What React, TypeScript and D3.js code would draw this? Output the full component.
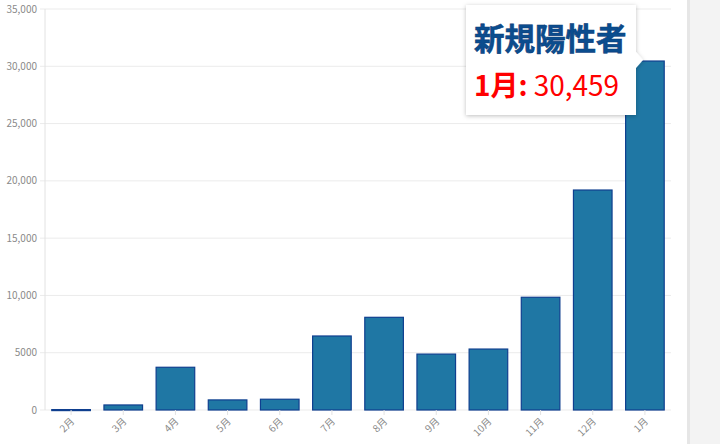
import React from "react";
import * as d3 from "d3";

const months = ["2月", "3月", "4月", "5月", "6月", "7月", "8月", "9月", "10月", "11月", "12月", "1月"];
const positives = [35, 440, 3730, 880, 940, 6460, 8090, 4880, 5320, 9840, 19200, 30459];
const yTicks = [0, 5000, 10000, 15000, 20000, 25000, 30000, 35000];
const tooltipTitle = "新規陽性者";
const tooltipIndex = 11;

const W = 720;
const H = 444;
const M = { left: 45, right: 671, top: 9, bottom: 410 };

export default function App() {
  const x = d3.scaleBand<string>().domain(months).range([M.left, M.right]).paddingInner(0.26).paddingOuter(0.13);
  const y = d3.scaleLinear().domain([0, 35000]).range([M.bottom, M.top]);
  const fmt = (v: number) => (v === 0 ? "0" : v < 10000 ? String(v) : d3.format(",")(v));
  const font = "'Noto Sans CJK JP', 'Noto Sans', sans-serif";

  const tipX = 466, tipY = 5, tipW = 170, tipH = 110;

  return (
    <div style={{ position: "absolute", left: 0, top: 0 }}>
      <svg width={W} height={H} style={{ display: "block", fontFamily: font }}>
        <defs>
          <filter id="sh" x="-20%" y="-20%" width="140%" height="140%">
            <feDropShadow dx="0" dy="1" stdDeviation="2" floodColor="#000" floodOpacity="0.25" />
          </filter>
        </defs>
        <rect x={0} y={0} width={W} height={H} fill="#fff" />
        {/* right strip */}
        <rect x={687} y={0} width={33} height={H} fill="#f3f3f3" />
        <rect x={687} y={0} width={3} height={H} fill="#e6e6e6" />
        {/* grid */}
        {yTicks.map((t) => (
          <g key={t}>
            <line x1={M.left - 5} x2={M.right} y1={y(t)} y2={y(t)} stroke="#ebebeb" strokeWidth={1} />
            <text x={M.left - 8} y={y(t)} dy="0.35em" textAnchor="end" fontSize={10} fill="#8a8a8a">
              {fmt(t)}
            </text>
          </g>
        ))}
        <line x1={M.left} x2={M.left} y1={M.top} y2={M.bottom} stroke="#e2e2e2" />
        {/* bars */}
        {months.map((m, i) => {
          const x0 = x(m)!;
          const top = y(positives[i]);
          return (
            <rect
              key={m}
              x={x0}
              y={top}
              width={x.bandwidth()}
              height={Math.max(M.bottom - top, 1)}
              fill="#1f77a4"
              stroke="#0f3f8f"
              strokeWidth={1.2}
            />
          );
        })}
        {/* x ticks and labels */}
        {months.map((m) => {
          const cx = x(m)! + x.bandwidth() / 2;
          return (
            <g key={m}>
              <line x1={cx} x2={cx} y1={M.bottom} y2={M.bottom + 5} stroke="#e2e2e2" />
              <text
                transform={`translate(${cx + 4},${M.bottom + 12}) rotate(-45)`}
                textAnchor="end"
                fontSize={10}
                fill="#8a8a8a"
              >
                {m}
              </text>
            </g>
          );
        })}
        {/* tooltip */}
        <g filter="url(#sh)">
          <path
            d={`M${tipX},${tipY} H${tipX + tipW} V${tipY + 47} L${tipX + tipW + 7},${tipY + 55} L${tipX + tipW},${tipY + 63} V${tipY + tipH} H${tipX} Z`}
            fill="#fff"
          />
        </g>
        <text x={474} y={50} fontSize={30.5} fontWeight={700} fill="#0b4d8e" stroke="#0a3c7a" strokeWidth={0.6}>
          {tooltipTitle}
        </text>
        <text x={474} y={96} fontSize={28} fill="#ff0000">
          <tspan fontWeight={700}>{months[tooltipIndex]}:</tspan>
          <tspan dx={6}>{d3.format(",")(positives[tooltipIndex])}</tspan>
        </text>
      </svg>
    </div>
  );
}
